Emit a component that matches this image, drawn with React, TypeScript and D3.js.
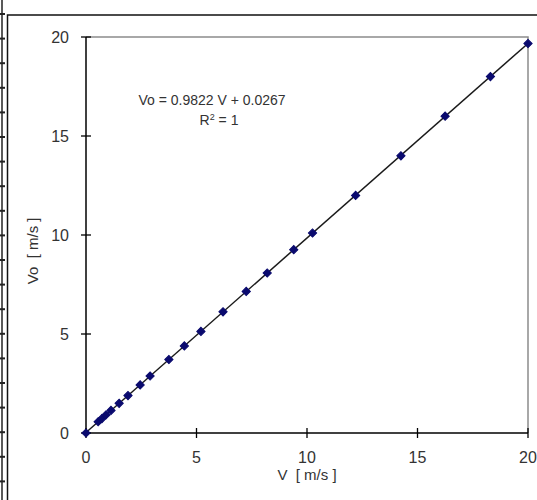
import React, { useEffect, useRef } from 'react';
import * as d3 from 'd3';

// measured points, V vs Vo
const vIn = [0, 0.55, 0.72, 0.9, 1.13, 1.5, 1.9, 2.45, 2.9, 3.75, 4.45, 5.2, 6.2, 7.25, 8.2, 9.4, 10.25, 12.2, 14.25, 16.25, 18.3, 20.0];
const vOut = [0, 0.57, 0.73, 0.91, 1.14, 1.5, 1.89, 2.43, 2.88, 3.71, 4.4, 5.13, 6.12, 7.15, 8.08, 9.26, 10.1, 12.0, 14.0, 16.0, 18.0, 19.67];
const ticks = [0, 5, 10, 15, 20];
const slope = 0.9822;
const intercept = 0.0267;
const eqLabel = 'Vo = 0.9822 V + 0.0267';
const xTitle = 'V  [ m/s ]';
const yTitle = 'Vo  [ m/s ]';

const W = 537;
const H = 500;
const FONT = '"Liberation Sans", Arial, sans-serif';

function App() {
  const ref = useRef<SVGSVGElement>(null);

  useEffect(() => {
    const svg = d3.select(ref.current);
    svg.selectAll('*').remove();

    const left = 86, right = 528, top = 37, bottom = 433;
    const x = d3.scaleLinear().domain([0, 20]).range([left, right]);
    const y = d3.scaleLinear().domain([0, 20]).range([bottom, top]);

    svg.append('rect').attr('width', W).attr('height', H).attr('fill', '#fff');

    // outer frame bits from the page
    svg.append('line').attr('x1', 2).attr('x2', 2).attr('y1', 0).attr('y2', H)
      .attr('stroke', '#222').attr('stroke-width', 1.5);
    svg.selectAll('.edgeTick')
      .data(d3.range(14, H, 24.6))
      .enter().append('line')
      .attr('x1', 0).attr('x2', 5)
      .attr('y1', (d) => d).attr('y2', (d) => d)
      .attr('stroke', '#222').attr('stroke-width', 2);
    svg.append('path')
      .attr('d', `M7.5,${H} V15 H${W}`)
      .attr('fill', 'none').attr('stroke', '#111').attr('stroke-width', 1.5);

    // plot area border (gray top/right)
    svg.append('path')
      .attr('d', `M${left},${top} H${right} V${bottom}`)
      .attr('fill', 'none').attr('stroke', '#8c8c8c').attr('stroke-width', 1.5);

    // axes
    svg.append('line').attr('x1', left).attr('x2', left).attr('y1', top).attr('y2', bottom)
      .attr('stroke', '#000').attr('stroke-width', 1.5);
    svg.append('line').attr('x1', left).attr('x2', right).attr('y1', bottom).attr('y2', bottom)
      .attr('stroke', '#000').attr('stroke-width', 1.5);

    svg.selectAll('.yt').data(ticks).enter().append('line')
      .attr('x1', left - 5).attr('x2', left + 5)
      .attr('y1', (d) => y(d)).attr('y2', (d) => y(d))
      .attr('stroke', '#000').attr('stroke-width', 1.3);
    svg.selectAll('.xt').data(ticks).enter().append('line')
      .attr('x1', (d) => x(d)).attr('x2', (d) => x(d))
      .attr('y1', bottom - 5).attr('y2', bottom + 5)
      .attr('stroke', '#000').attr('stroke-width', 1.3);

    svg.selectAll('.yl').data(ticks).enter().append('text')
      .attr('x', left - 17).attr('y', (d) => y(d) + 6)
      .attr('text-anchor', 'end')
      .style('font-family', FONT).style('font-size', '16px').style('fill', '#333')
      .text((d) => d);
    svg.selectAll('.xl').data(ticks).enter().append('text')
      .attr('x', (d) => x(d)).attr('y', bottom + 30)
      .attr('text-anchor', 'middle')
      .style('font-family', FONT).style('font-size', '16px').style('fill', '#333')
      .text((d) => d);

    svg.append('text')
      .attr('x', x(10)).attr('y', bottom + 47)
      .attr('text-anchor', 'middle')
      .style('white-space', 'pre')
      .style('font-family', FONT).style('font-size', '15px').style('fill', '#333')
      .text(xTitle);
    svg.append('text')
      .attr('transform', `translate(38, ${y(9.2)}) rotate(-90)`)
      .attr('text-anchor', 'middle')
      .style('white-space', 'pre')
      .style('font-family', FONT).style('font-size', '15px').style('fill', '#333')
      .text(yTitle);

    // trendline
    svg.append('line')
      .attr('x1', x(0)).attr('y1', y(intercept))
      .attr('x2', x(20)).attr('y2', y(slope * 20 + intercept))
      .attr('stroke', '#1a1a1a').attr('stroke-width', 1.5);

    // markers
    const sym = d3.symbol().type(d3.symbolSquare).size(34);
    svg.selectAll('.pt').data(vIn).enter().append('path')
      .attr('d', sym)
      .attr('transform', (d, i) => `translate(${x(d)},${y(vOut[i])}) rotate(45)`)
      .attr('fill', '#0a0a6e')
      .attr('stroke', '#0a0a6e').attr('stroke-width', 1);

    // equation
    const eq = svg.append('g').style('font-family', FONT).style('font-size', '14px').style('fill', '#333');
    eq.append('text').attr('x', 212).attr('y', 105).attr('text-anchor', 'middle').text(eqLabel);
    const r2 = eq.append('text').attr('x', 219).attr('y', 125).attr('text-anchor', 'middle');
    r2.append('tspan').text('R');
    r2.append('tspan').attr('dy', -5).style('font-size', '9px').text('2');
    r2.append('tspan').attr('dy', 5).text(' = 1');
  }, []);

  return (
    <svg ref={ref} width={W} height={H}
      style={{ position: 'absolute', left: 0, top: 0, display: 'block' }} />
  );
}

export default App;
